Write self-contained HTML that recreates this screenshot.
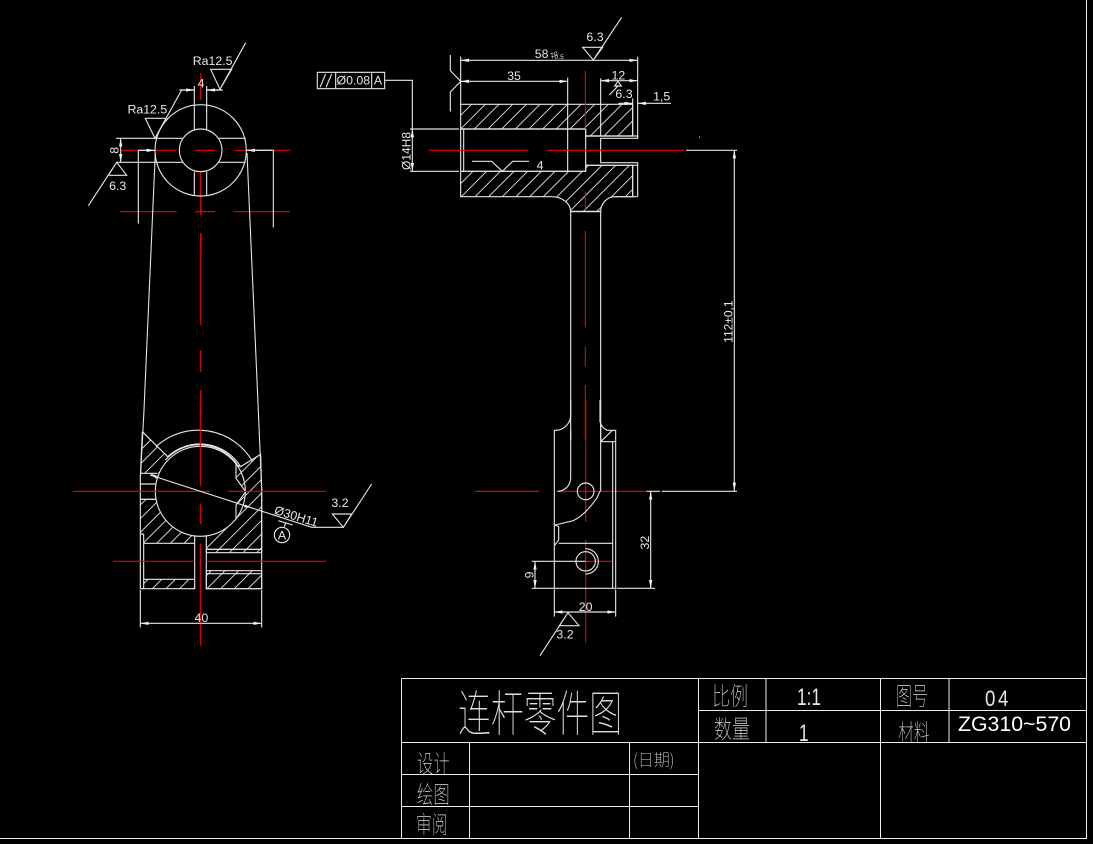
<!DOCTYPE html>
<html>
<head>
<meta charset="utf-8">
<style>
html,body{margin:0;padding:0;background:#000;width:1093px;height:844px;overflow:hidden}
svg{display:block}
.w{fill:none;stroke:#e4e4e4;stroke-width:3.4}
.r{fill:none;stroke:#ee0000;stroke-width:3.4}
text{fill:#e8e8e8;font-family:"Liberation Sans","Noto Sans CJK SC",sans-serif}
.t{font-size:37px;text-anchor:middle}
.c{font-family:"Noto Sans CJK SC","WenQuanYi Zen Hei",sans-serif;font-weight:100;fill:#e0e0e0}
.b path{stroke:#eee;stroke-width:1;fill:none}
</style>
</head>
<body>
<svg width="1093" height="844" viewBox="0 0 1093 844" xmlns="http://www.w3.org/2000/svg">
<defs>
<path id="hl" fill="none" stroke="#dcdcdc" stroke-width="2.8" d="M268,60L100,228M309,60L100,269M350,60L100,310M391,60L100,351M432,60L100,392M473,60L100,433M514,60L100,474M555,60L100,515M596,60L100,556M637,60L100,597M678,60L128,610M719,60L169,610M760,60L210,610M801,60L251,610M842,60L292,610M883,60L333,610M924,60L374,610M965,60L415,610M1006,60L456,610M1047,60L497,610M1088,60L538,610M1129,60L579,610M1170,60L620,610M1211,60L661,610M1252,60L702,610M1293,60L743,610M1334,60L784,610M1375,60L825,610M1416,60L866,610M1457,60L907,610M1498,60L948,610"/>
<marker id="a" markerUnits="userSpaceOnUse" markerWidth="28" markerHeight="12" refX="25" refY="6" orient="auto-start-reverse">
<path d="M25,6 L0,1 L0,11 Z" fill="#f2f2f2"/>
</marker>
<clipPath id="l1"><path d="M217,65L293,140A135,135 0 0 0 267,190H213Z"/></clipPath>
<clipPath id="l2"><path d="M211,268H258A135,135 0 0 0 375,378V400H221V372H211Z"/></clipPath>
<clipPath id="l3"><path d="M512,170L572,133L575,240V418H409V378A135,135 0 0 0 498,326V285L527,245L498,205V165Z"/></clipPath>
<clipPath id="l4"><rect x="221" y="508" width="153" height="28"/></clipPath>
<clipPath id="l5"><rect x="409" y="482" width="166" height="54"/></clipPath>
<clipPath id="l6"><rect x="409" y="418" width="166" height="10"/></clipPath>
<clipPath id="r1"><path d="M452,283H968V378H827V357H452Z"/></clipPath>
<clipPath id="r2"><path d="M452,484H827V466H968V560H915A43,45 0 0 0 872,605H782A57,45 0 0 0 725,560H452Z"/></clipPath>
</defs>
<rect width="1093" height="844" fill="#000"/>

<!-- Frame -->
<g class="b">
<path d="M1086.5,0 V838.5 H0" stroke-width="1.4"/>
<path d="M401.5,678.5 H1086 M401.5,678.5 V838 M401.5,742.5 H1086 M401.5,774.5 H698.5 M401.5,806.5 H698.5 M698.5,710.5 H1086 M469.5,742.5 V838 M629.5,742.5 V838 M698.5,678.5 V838 M766,678.5 V742.5 M880.5,678.5 V838 M949,678.5 V742.5"/>
</g>
<!-- Title text -->
<g class="c">
<text transform="translate(458,731) scale(.67,1)" font-size="49" class="c">连杆零件图</text>
<text transform="translate(712,705) scale(.72,1)" font-size="25" class="c">比例</text>
<text transform="translate(714,738) scale(.72,1)" font-size="25" class="c">数量</text>
<text transform="translate(896,705) scale(.64,1)" font-size="25" class="c">图号</text>
<text transform="translate(898,741) scale(.66,1)" font-size="24" class="c">材料</text>
<text transform="translate(417,772) scale(.68,1)" font-size="24" class="c">设计</text>
<text transform="translate(417,803) scale(.68,1)" font-size="24" class="c">绘图</text>
<text transform="translate(416,833) scale(.66,1)" font-size="24" class="c">审阅</text>
<text transform="translate(633,766) scale(1,1.05)" font-size="16" class="c">(日期)</text>
</g>
<text transform="translate(797,705) scale(.72,1)" font-size="24">1:1</text>
<text transform="translate(799,741) scale(.72,1)" font-size="24">1</text>
<text transform="translate(985,706) scale(.85,1)" font-size="22" letter-spacing="3">04</text>
<text x="958" y="731" font-size="21" textLength="113" lengthAdjust="spacingAndGlyphs" style="fill:#fff">ZG310~570</text>

<!-- Left view: top boss (zoom coordinates origin 80,30) -->
<g transform="translate(80,30) scale(.33333)">
<path class="r" d="M122,361H290M345,361H405M462,361H630M120,545H290M345,545H405M462,545H630M362,130V210M362,422V555M362,612V660"/>
<circle class="w" cx="362" cy="361" r="137"/>
<circle class="w" cx="362" cy="361" r="64"/>
<path class="w" d="M343,168V300M380,168V298M343,425V497M380,425V497M108,325H307M108,397H307M414,325H497M414,397H497"/>
<path class="w" d="M175,581V361H202M580,592V361H525"/>
<line class="w" x1="178" y1="361" x2="225" y2="361" marker-end="url(#a)"/>
<line class="w" x1="575" y1="361" x2="500" y2="361" marker-end="url(#a)"/>
<line class="w" x1="122" y1="325" x2="122" y2="397" marker-start="url(#a)" marker-end="url(#a)"/>
<path class="w" d="M298,180H343M380,180H428"/>
<line class="w" x1="300" y1="180" x2="343" y2="180" marker-end="url(#a)"/>
<line class="w" x1="428" y1="180" x2="380" y2="180" marker-end="url(#a)"/>
<path class="w" d="M392,118H455L420,178ZM420,178L497,38"/>
<path class="w" d="M196,265H258L225,325ZM225,325L305,180"/>
<path class="w" d="M110,397L140,436H85ZM110,397L25,527"/>
<text class="t" x="398" y="105">Ra12.5</text>
<text class="t" x="202" y="250">Ra12.5</text>
<text class="t" x="363" y="172">4</text>
<text class="t" x="113" y="480">6.3</text>
<text class="t" transform="translate(116,361) rotate(-90)">8</text>
</g>

<!-- Rod sides -->
<path d="M155.3,153 L144,410 L140.5,476 M247,153 L258.3,410 L261.7,490" fill="none" stroke="#e4e4e4" stroke-width="1.1"/>
<path d="M200.7,233V325M200.7,350V372M200.7,390V415" fill="none" stroke="#ee0000" stroke-width="1.1"/>

<!-- Left view: bottom (origin 70,410) -->
<g transform="translate(70,410) scale(.33333)">
<g clip-path="url(#l1)"><use href="#hl" x="4"/></g>
<g clip-path="url(#l2)"><use href="#hl" x="4"/></g>
<g clip-path="url(#l3)"><use href="#hl" x="4"/></g>
<g clip-path="url(#l4)"><use href="#hl" x="4"/></g>
<g clip-path="url(#l5)"><use href="#hl" x="4"/></g>
<g clip-path="url(#l6)"><use href="#hl" x="4"/></g>
<path class="w" d="M217,65L293,140M211,268H258M221,400H374M512,170L572,133L575,240V418H409M498,326V285L527,245L498,205V165L512,170"/>
<rect class="w" x="409" y="418" width="166" height="10"/>
<rect class="w" x="409" y="482" width="166" height="54"/>
<path class="w" d="M409,491H575"/>
<circle class="w" cx="391" cy="244" r="135"/>
<path class="w" d="M258,110A188,188 0 0 1 548,155M293,140A143,143 0 0 1 512,170M286,150A138,138 0 0 1 505,168"/>
<path class="w" d="M217,65L211,200V536H374V378M409,378V536H575V240M221,372V536M211,372H221M221,508H374M211,190H262M211,222H257M211,268H257"/>
<path class="r" d="M9,244H420M473,244H768M129,454H374M409,454H768M391,0V228M391,282V342M391,400V707"/>
<path class="w" d="M211,540V652M575,540V652"/>
<line class="w" x1="211" y1="640" x2="575" y2="640" marker-start="url(#a)" marker-end="url(#a)"/>
<text class="t" x="394" y="636">40</text>
<path class="w" d="M240,195L725,352H820L905,222M787,312H845L820,352Z"/>
<path d="M240,190L262,198L258,206Z M545,293L522,292L526,284Z" fill="#f2f2f2"/>
<text class="t" x="810" y="291">3.2</text>
<text class="t" transform="translate(675,331) rotate(17)">Ø30H11</text>
<circle class="w" cx="636" cy="375" r="23"/>
<path class="w" d="M625,332L668,345M647,338L643,350"/>
<text class="t" x="636" y="388">A</text>
</g>

<!-- Right view top (origin 310,10) -->
<g transform="translate(310,10) scale(.33333)">
<g clip-path="url(#r1)"><use href="#hl" x="30"/></g>
<g clip-path="url(#r2)"><use href="#hl" x="30"/></g>
<path class="w" d="M452,283H968V378H827V357H452Z"/>
<path class="w" d="M452,484H827V466H968V560H915A43,45 0 0 0 872,605H782A57,45 0 0 0 725,560H452Z"/>
<path class="w" d="M968,283V378M968,466V560M983,560V458H872V385H983V378H827M827,466H983M915,560H983"/>
<path class="w" d="M452,140V283M983,140V385M773,203V484M872,205V378M968,265V283"/>
<path class="w" d="M300,357H447M452,357H827M300,484H447M452,484H827M461,357V484M827,357V484M452,357V484"/>
<path class="r" d="M357,421H653M711,421H1122M826,183V357M826,545V605"/>
<path class="w" d="M1128,421H1281"/>
<line class="w" x1="452" y1="151" x2="983" y2="151" marker-start="url(#a)" marker-end="url(#a)"/>
<line class="w" x1="452" y1="214" x2="773" y2="214" marker-start="url(#a)" marker-end="url(#a)"/>
<line class="w" x1="872" y1="212" x2="983" y2="212" marker-start="url(#a)" marker-end="url(#a)"/>
<path class="w" d="M421,135V182L452,214L421,246V305"/>
<path class="w" d="M818,112H878L850,150ZM850,150L935,22"/>
<path class="w" d="M914,228H934L924,214ZM924,228L898,255"/>
<line class="w" x1="925" y1="280" x2="968" y2="280" marker-end="url(#a)"/>
<line class="w" x1="1083" y1="280" x2="983" y2="280" marker-end="url(#a)"/>
<rect class="w" x="22" y="187" width="202" height="49"/>
<path class="w" d="M77,187V236M185,187V236M30,232L47,192M48,232L65,192M224,211H307V357"/>
<line class="w" x1="307" y1="357" x2="307" y2="484" marker-start="url(#a)" marker-end="url(#a)"/>
<path class="w" d="M486,454H545L577,484L608,454H657"/>
<rect x="1167" y="380" width="3" height="3" fill="#fff"/>
<text class="t" x="695" y="144">58</text>
<text x="720" y="138" font-size="20">+0</text>
<text x="722" y="147" font-size="20">+0.5</text>
<text class="t" x="855" y="93">6.3</text>
<text class="t" x="612" y="210">35</text>
<text class="t" x="925" y="208">12</text>
<text class="t" x="942" y="264">6.3</text>
<text class="t" x="1055" y="272">1,5</text>
<text class="t" x="690" y="478">4</text>
<text class="t" x="130" y="224">Ø0.08</text>
<text class="t" x="204" y="224">A</text>
<text class="t" style="font-size:36px" transform="translate(301,423) rotate(-90)">Ø14H8</text>
</g>

<!-- Shaft (origin 540,170) -->
<g transform="translate(540,170) scale(.33333)">
<path class="w" d="M92,124V810M182,124V810M92,124H182"/>
<path class="r" d="M136,183V472M136,531V590M136,645V810"/>
<line class="w" x1="583" y1="-60" x2="583" y2="963" marker-start="url(#a)" marker-end="url(#a)"/>
<text class="t" style="font-size:36px" transform="translate(578,455) rotate(-90)">112±0,1</text>
</g>

<!-- Right view bottom (origin 470,400) -->
<g transform="translate(470,400) scale(.33333)">
<path class="r" d="M15,274H207M262,274H530M347,0V365M347,420V728M347,484H425"/>
<path class="w" d="M302,0V45A46,46 0 0 1 253,91V565M390,0V65Q396,85 412,91H437V565M428,125V565M392,65V274M392,125H437M392,125L427,91M302,91V235A40,40 0 0 1 262,274M390,274L380,295Q345,345 310,362L255,375L266,380V420L253,437M266,430H428"/>
<circle class="w" cx="347" cy="274" r="25"/>
<circle class="w" cx="347" cy="484" r="29"/>
<path class="w" d="M347,446A38,38 0 1 1 347,522"/>
<path class="w" d="M185,484H347M185,565H437M440,565H555M530,274H570M575,274H801M253,568V650M437,568V650"/>
<line class="w" x1="195" y1="484" x2="195" y2="565" marker-start="url(#a)" marker-end="url(#a)"/>
<line class="w" x1="542" y1="274" x2="542" y2="565" marker-start="url(#a)" marker-end="url(#a)"/>
<line class="w" x1="253" y1="636" x2="437" y2="636" marker-start="url(#a)" marker-end="url(#a)"/>
<path class="w" d="M294,638L327,677H268ZM294,638L210,767"/>
<text class="t" x="347" y="633">20</text>
<text class="t" x="285" y="715">3.2</text>
<text class="t" transform="translate(190,525) rotate(-90)">9</text>
<text class="t" transform="translate(537,428) rotate(-90)">32</text>
</g>
</svg>
</body>
</html>
